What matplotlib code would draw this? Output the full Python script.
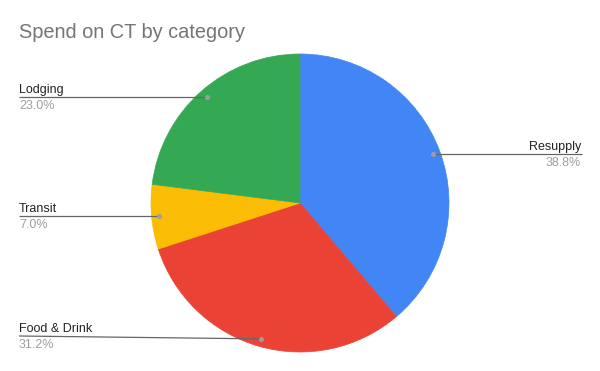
import numpy as np
import matplotlib
matplotlib.use("Agg")
import matplotlib.pyplot as plt

categories = ["Resupply", "Food & Drink", "Transit", "Lodging"]
shares = [38.8, 31.2, 7.0, 23.0]
pct_labels = ["38.8%", "31.2%", "7.0%", "23.0%"]
colors = ["#4285F4", "#EA4335", "#FBBC04", "#34A853"]

W, H = 600, 371
fig = plt.figure(figsize=(W / 100, H / 100), dpi=100)
ax = fig.add_axes([0, 0, 1, 1])
ax.set_xlim(0, W)
ax.set_ylim(0, H)
ax.axis("off")

cx, cy, r = 300, H - 203, 149
wedges, _ = ax.pie(shares, colors=colors, startangle=90, counterclock=False,
                   center=(cx, cy), radius=r, frame=True,
                   wedgeprops=dict(linewidth=0.5, antialiased=True))
for w, c in zip(wedges, colors):
    w.set_edgecolor(c)
ax.set_xlim(0, W)
ax.set_ylim(0, H)
ax.set_aspect("auto")
ax.axis("off")

font = "Liberation Sans"
fig.text(19 / W, 1 - 32 / H, "Spend on CT by category", fontsize=14.4,
         color="#757575", family=font, va="center", ha="left")

total = sum(shares)
start = 90.0
for i, (cat, val, pl) in enumerate(zip(categories, shares, pct_labels)):
    span = 360 * val / total
    mid = np.deg2rad(start - span / 2)
    start -= span
    dx = cx + 0.948 * r * np.cos(mid)
    dy = cy + 0.948 * r * np.sin(mid)
    dy_px = H - dy
    ly_px = min(dy_px, 336)
    ly = H - ly_px
    if np.cos(mid) >= 0:
        x_end = 582
        ha = "right"
        tx = 581
    else:
        x_end = 19
        ha = "left"
        tx = 19
    ax.plot([dx, x_end], [dy, ly], color="#666666", lw=0.9,
            solid_capstyle="butt", zorder=3)
    ax.plot([dx], [dy], "o", ms=3.6, color="#9e9e9e", mec="none", zorder=4)
    ax.text(tx, ly + 4, cat, ha=ha, va="baseline", fontsize=9,
            color="#222222", family=font)
    ax.text(tx, ly - 3, pl, ha=ha, va="top", fontsize=9,
            color="#9e9e9e", family=font)

fig.savefig("out.png", dpi=100)
